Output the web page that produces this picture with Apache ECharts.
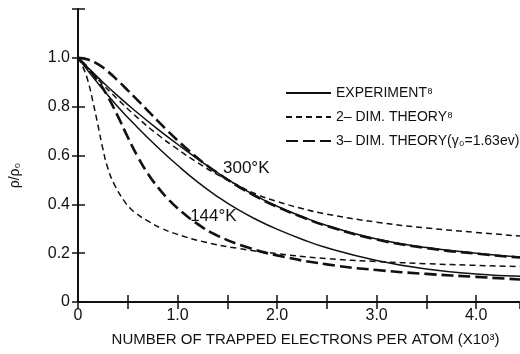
<!DOCTYPE html>
<html>
<head>
<meta charset="utf-8">
<script src="https://cdn.jsdelivr.net/npm/echarts@6/dist/echarts.min.js"></script>
<style>html,body{margin:0;padding:0;background:#fff;}#c{width:520px;height:354px;}</style>
</head>
<body>
<div id="c"></div>
<script>
// ---- data ----
var xTickLabels = ['0', '1.0', '2.0', '3.0', '4.0'];
var yTickLabels = ['0', '0.2', '0.4', '0.6', '0.8', '1.0'];
var legendNames = ['EXPERIMENT⁸', '2– DIM. THEORY⁸', '3– DIM. THEORY(γ₀=1.63ev)'];
var curveLabels = ['300°K', '144°K'];

var exp300 = [[0,1],[0.2,0.92],[0.4,0.844],[0.6,0.774],[0.8,0.708],[1.0,0.646],[1.2,0.586],[1.4,0.53],[1.6,0.478],[1.8,0.432],[2.0,0.392],[2.25,0.35],[2.5,0.313],[3.0,0.258],[3.5,0.223],[4.0,0.2],[4.44,0.184]];
var dim2_300 = [[0,1],[0.2,0.912],[0.4,0.83],[0.6,0.754],[0.8,0.686],[1.0,0.626],[1.2,0.571],[1.4,0.522],[1.6,0.479],[1.8,0.44],[2.0,0.412],[2.25,0.383],[2.5,0.36],[3.0,0.327],[3.5,0.303],[4.0,0.285],[4.44,0.27]];
var dim3_300 = [[0,1],[0.1,0.993],[0.2,0.974],[0.3,0.944],[0.4,0.907],[0.5,0.867],[0.6,0.826],[0.7,0.784],[0.8,0.742],[0.9,0.701],[1.0,0.662],[1.1,0.625],[1.2,0.59],[1.3,0.558],[1.4,0.529],[1.6,0.476],[1.8,0.43],[2.0,0.39],[2.25,0.348],[2.5,0.311],[3.0,0.256],[3.5,0.221],[4.0,0.198],[4.44,0.182]];
var exp144 = [[0,1],[0.2,0.896],[0.4,0.8],[0.6,0.714],[0.8,0.634],[1.0,0.56],[1.2,0.492],[1.4,0.432],[1.6,0.38],[1.8,0.336],[2.0,0.298],[2.25,0.257],[2.5,0.222],[3.0,0.17],[3.5,0.135],[4.0,0.115],[4.44,0.105]];
var dim2_144 = [[0,1],[0.05,0.962],[0.1,0.905],[0.15,0.82],[0.2,0.725],[0.25,0.627],[0.3,0.548],[0.367,0.48],[0.467,0.412],[0.52,0.386],[0.583,0.363],[0.7,0.332],[0.833,0.303],[1.0,0.277],[1.27,0.246],[1.6,0.22],[2.0,0.198],[2.5,0.178],[3.0,0.166],[3.5,0.157],[4.0,0.15],[4.44,0.145]];
var dim3_144 = [[0,1],[0.1,0.958],[0.2,0.906],[0.3,0.841],[0.4,0.761],[0.5,0.675],[0.6,0.595],[0.7,0.527],[0.8,0.471],[0.9,0.424],[1.0,0.384],[1.2,0.32],[1.4,0.272],[1.7,0.224],[2.0,0.191],[2.5,0.154],[3.0,0.131],[3.5,0.115],[4.0,0.103],[4.44,0.092]];
var label300Pos = [1.69, 0.547];
var label144Pos = [1.36, 0.352];

// ---- chart ----
var INK = '#111';
var FONT = 'Liberation Sans';
var styles = {
  solid: {type: 'solid', width: 1.5},
  short: {type: [6, 4], width: 1.5},
  long: {type: [12, 5], width: 2.6}
};
function mkSeries(name, data, st, extra) {
  var s = {
    name: name, type: 'line', data: data, showSymbol: false, symbol: 'none',
    smooth: 0.5,
    lineStyle: {color: INK, type: st.type, width: st.width, cap: 'butt', join: 'round'},
    itemStyle: {color: INK},
    animation: false
  };
  if (extra) s.markPoint = extra;
  return s;
}
function mkLabel(name, pos) {
  return {
    symbol: 'circle', symbolSize: 0, animation: false,
    data: [{name: name, coord: pos}],
    label: {show: true, position: 'inside', formatter: '{b}', color: INK, fontSize: 17, fontFamily: FONT}
  };
}
function xFmt(v) {
  var r = Math.round(v);
  if (Math.abs(v - r) > 1e-6 || r < 0 || r >= xTickLabels.length) return '';
  return xTickLabels[r];
}
function yFmt(v) {
  var r = Math.round(v / 0.2);
  if (Math.abs(v - r * 0.2) > 1e-6 || r >= yTickLabels.length) return '';
  return yTickLabels[r];
}
var chart = echarts.init(document.getElementById('c'), null, {renderer: 'canvas'});
chart.setOption({
  backgroundColor: '#fff',
  animation: false,
  grid: {left: 76, right: 0, top: 9, bottom: 52, containLabel: false},
  legend: {
    left: 280, top: 81, orient: 'vertical', itemWidth: 45, itemHeight: 14, itemGap: 10,
    data: legendNames, selectedMode: false,
    itemStyle: {opacity: 0},
    textStyle: {color: INK, fontSize: 14, fontFamily: FONT}
  },
  xAxis: [{
    type: 'value', min: 0, max: 4.44, interval: 0.5, position: 'bottom',
    axisLine: {show: true, lineStyle: {color: INK, width: 2}},
    axisTick: {show: true, inside: true, length: 7, lineStyle: {color: INK, width: 1.5}},
    axisLabel: {formatter: xFmt, color: INK, fontSize: 16, fontFamily: FONT, margin: 6, showMaxLabel: false},
    splitLine: {show: false},
    name: 'NUMBER OF TRAPPED ELECTRONS PER ATOM (X10³)', nameLocation: 'middle', nameGap: 30,
    nameTextStyle: {color: INK, fontSize: 15, fontFamily: FONT, padding: [0, 0, 0, 13]}
  }, {
    type: 'value', min: 0, max: 4.44, interval: 0.5, position: 'top',
    axisLine: {show: true, lineStyle: {color: INK, width: 2}},
    axisTick: {show: true, inside: true, length: 7, lineStyle: {color: INK, width: 1.5}},
    axisLabel: {show: false}, splitLine: {show: false}
  }],
  yAxis: [{
    type: 'value', min: 0, max: 1.2, interval: 0.2, position: 'left',
    axisLine: {show: true, lineStyle: {color: INK, width: 2}},
    axisTick: {show: true, inside: true, length: 7, lineStyle: {color: INK, width: 1.5}},
    axisLabel: {formatter: yFmt, color: INK, fontSize: 16, fontFamily: FONT, margin: 8},
    splitLine: {show: false},
    name: 'ρ/ρ₀', nameLocation: 'middle', nameGap: 56, nameRotate: 90,
    nameTextStyle: {color: INK, fontSize: 14, fontFamily: FONT, padding: [0, 40, 0, 0]}
  }, {
    type: 'value', min: 0, max: 1.2, interval: 0.2, position: 'right',
    axisLine: {show: false},
    axisTick: {show: true, inside: true, length: 6, lineStyle: {color: INK, width: 1.5}},
    axisLabel: {show: false}, splitLine: {show: false}
  }],
  series: [
    mkSeries(legendNames[0], exp300, styles.solid),
    mkSeries(legendNames[1], dim2_300, styles.short),
    mkSeries(legendNames[2], dim3_300, styles.long, mkLabel(curveLabels[0], label300Pos)),
    mkSeries(legendNames[0], exp144, styles.solid),
    mkSeries(legendNames[1], dim2_144, styles.short),
    mkSeries(legendNames[2], dim3_144, styles.long, mkLabel(curveLabels[1], label144Pos))
  ]
});
</script>
</body>
</html>
